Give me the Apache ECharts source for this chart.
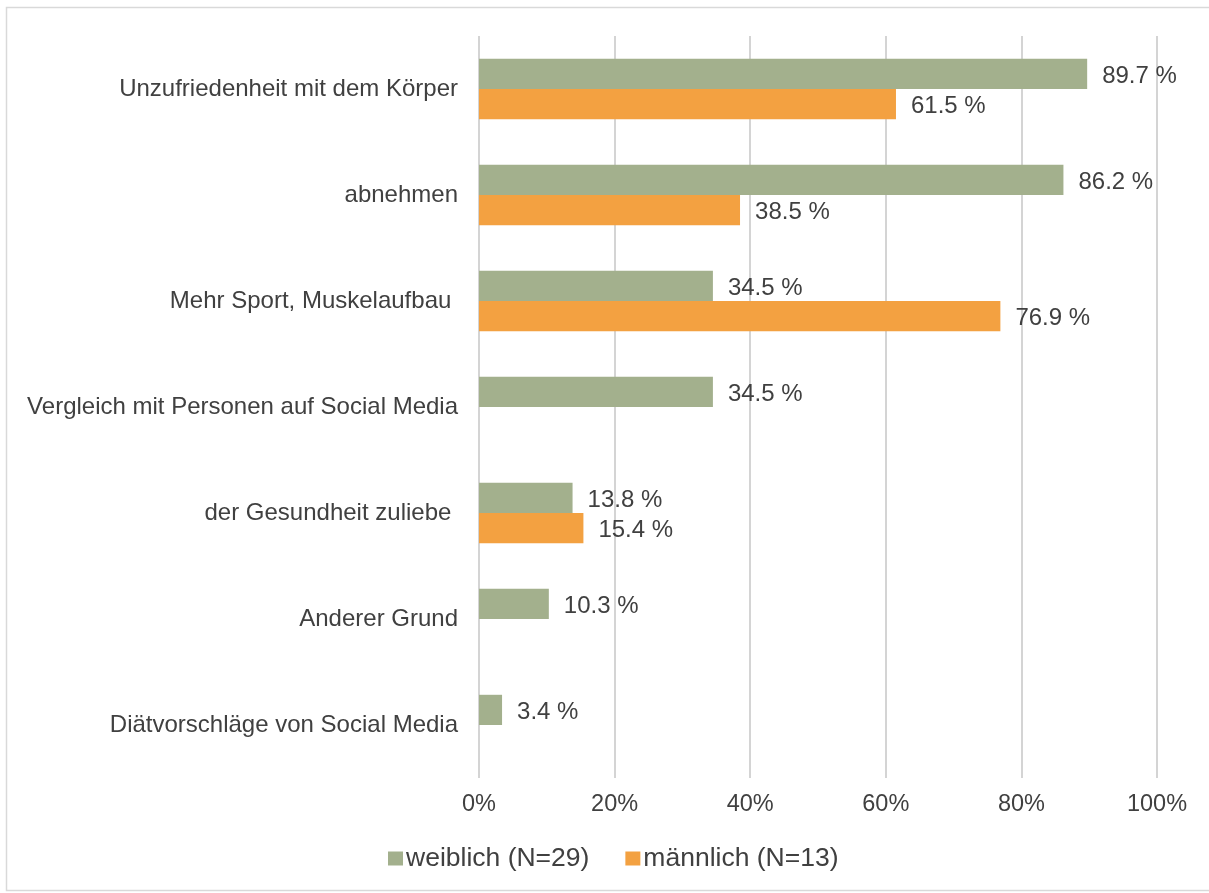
<!DOCTYPE html>
<html>
<head>
<meta charset="utf-8">
<script src="https://cdn.jsdelivr.net/npm/echarts@6/dist/echarts.min.js"></script>
<style>
  html, body { margin: 0; padding: 0; background: #ffffff; }
  #chart { width: 1209px; height: 893px; }
</style>
</head>
<body>
<div id="chart"></div>
<script>
// Gründe – Anteil der Befragten nach Geschlecht (in %)
const categories = [
  'Unzufriedenheit mit dem Körper',
  'abnehmen',
  'Mehr Sport, Muskelaufbau ',
  'Vergleich mit Personen auf Social Media',
  'der Gesundheit zuliebe ',
  'Anderer Grund',
  'Diätvorschläge von Social Media'
];
const weiblich = [89.7, 86.2, 34.5, 34.5, 13.8, 10.3, 3.4];
const maennlich = [61.5, 38.5, 76.9, null, 15.4, null, null];
const seriesNames = ['weiblich (N=29)', 'männlich (N=13)'];
const xTicks = [0, 20, 40, 60, 80, 100];

const FONT = '"Liberation Sans", Arial, sans-serif';
const TEXT = '#404040';

const chart = echarts.init(document.getElementById('chart'), null, { renderer: 'canvas' });

const valueLabel = {
  show: true,
  position: 'right',
  distance: 15,
  offset: [0, 2],
  color: TEXT,
  fontFamily: FONT,
  fontSize: 24,
  formatter: p => p.value == null ? '' : p.value.toFixed(1) + ' %'
};

chart.setOption({
  animation: false,
  backgroundColor: '#ffffff',
  graphic: [{
    type: 'rect',
    shape: { x: 6.5, y: 7.5, width: 1220, height: 883 },
    style: { fill: 'none', stroke: '#d9d9d9', lineWidth: 1.5 },
    silent: true
  }],
  grid: { left: 479, right: 52, top: 36, bottom: 115, containLabel: false },
  legend: {
    left: 388,
    top: 845,
    padding: 0,
    itemWidth: 15,
    itemHeight: 14,
    itemGap: 36,
    icon: 'rect',
    textStyle: { color: TEXT, fontFamily: FONT, fontSize: 26.5, padding: [0, 0, 0, -2] },
    data: seriesNames
  },
  xAxis: {
    type: 'value',
    min: xTicks[0],
    max: xTicks[xTicks.length - 1],
    interval: 20,
    axisLine: { show: false },
    axisTick: { show: false },
    splitLine: { show: true, lineStyle: { color: '#d4d4d4', width: 2 } },
    axisLabel: {
      color: TEXT,
      fontFamily: FONT,
      fontSize: 23.5,
      margin: 15,
      formatter: v => v + '%'
    }
  },
  yAxis: {
    type: 'category',
    data: categories,
    inverse: true,
    axisLine: { show: false },
    axisTick: { show: false },
    splitLine: { show: false },
    axisLabel: {
      color: TEXT,
      fontFamily: FONT,
      fontSize: 24,
      margin: 21,
      padding: [4, 0, 0, 0]
    }
  },
  series: [
    {
      name: seriesNames[0],
      type: 'bar',
      data: weiblich,
      barGap: '0%',
      barCategoryGap: '43%',
      itemStyle: { color: '#a3b08d' },
      label: valueLabel
    },
    {
      name: seriesNames[1],
      type: 'bar',
      data: maennlich,
      barGap: '0%',
      barCategoryGap: '43%',
      itemStyle: { color: '#f3a141' },
      label: valueLabel
    }
  ]
});
</script>
</body>
</html>
